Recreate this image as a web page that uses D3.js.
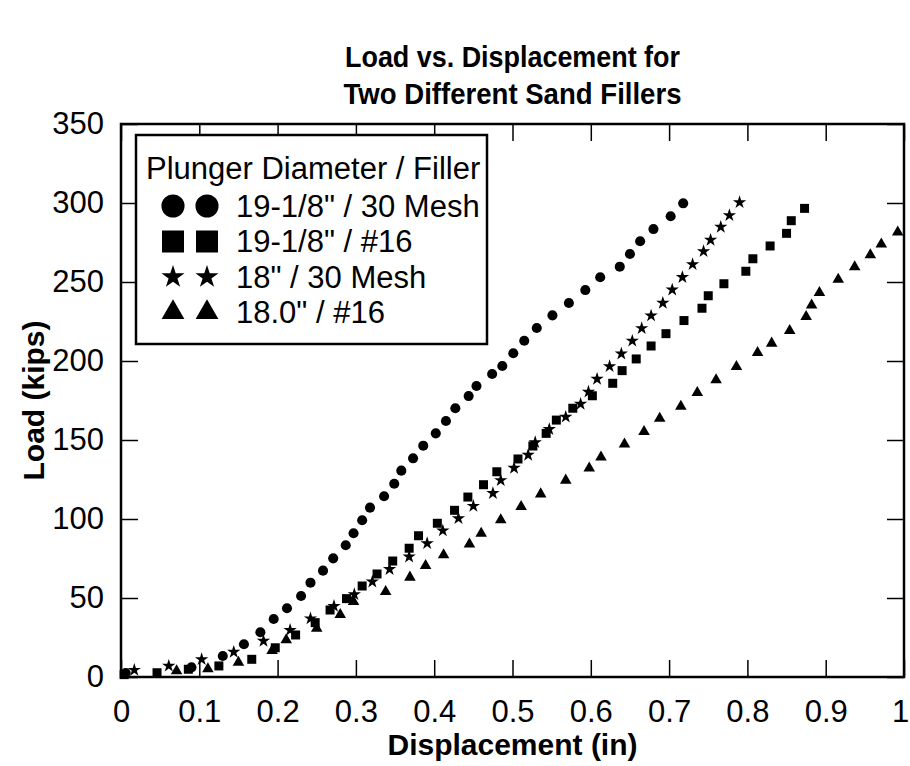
<!DOCTYPE html>
<html>
<head>
<meta http-equiv="Content-Type" content="text/html;charset=utf-8"/>
<style>
  body { margin: 0; background: #fff; }
  text { font-family: Arial, "Liberation Sans", Helvetica, sans-serif; fill: #000; }
</style>
</head>
<body>
<svg id="chart"></svg>
<script src="https://d3js.org/d3.v7.min.js"></script>
<script>
// Data: displacement (in) and load (kips)
var circleX = [0.006, 0.090, 0.130, 0.157, 0.178, 0.195, 0.212, 0.230, 0.242, 0.258, 0.271, 0.287, 0.297, 0.308, 0.318, 0.336, 0.349, 0.358, 0.373, 0.386, 0.402, 0.415, 0.427, 0.444, 0.454, 0.474, 0.487, 0.501, 0.515, 0.531, 0.551, 0.572, 0.593, 0.612, 0.637, 0.650, 0.663, 0.680, 0.702, 0.718];
var circleY = [2.5, 6.1, 13.3, 20.7, 28.3, 36.7, 43.5, 51.3, 59.7, 67.3, 75.1, 83.4, 91.0, 99.2, 107.2, 114.4, 122.3, 130.6, 138.4, 146.4, 154.2, 162.0, 170.1, 177.8, 184.2, 191.8, 196.8, 204.9, 212.8, 220.9, 228.9, 236.7, 244.9, 253.0, 259.7, 267.7, 275.8, 283.5, 291.6, 299.8];

var squareX = [0.004, 0.046, 0.086, 0.125, 0.167, 0.197, 0.223, 0.248, 0.267, 0.288, 0.308, 0.327, 0.347, 0.368, 0.380, 0.404, 0.426, 0.443, 0.463, 0.480, 0.507, 0.526, 0.543, 0.556, 0.577, 0.602, 0.628, 0.640, 0.658, 0.677, 0.696, 0.719, 0.742, 0.750, 0.770, 0.798, 0.807, 0.829, 0.850, 0.856, 0.873];
var squareY = [1.5, 2.7, 4.9, 7.0, 11.2, 18.5, 26.6, 34.4, 42.4, 49.6, 57.6, 65.2, 73.4, 81.5, 89.4, 97.3, 105.5, 113.9, 121.7, 129.9, 138.0, 146.2, 154.2, 162.6, 170.1, 178.0, 185.9, 193.9, 201.3, 209.5, 217.3, 225.6, 233.4, 241.3, 248.9, 256.8, 264.7, 272.8, 280.8, 288.8, 296.6];

var starX = [0.017, 0.061, 0.103, 0.144, 0.182, 0.216, 0.242, 0.272, 0.298, 0.321, 0.343, 0.368, 0.391, 0.411, 0.431, 0.450, 0.475, 0.485, 0.502, 0.520, 0.529, 0.547, 0.568, 0.587, 0.597, 0.608, 0.624, 0.639, 0.653, 0.665, 0.677, 0.692, 0.704, 0.717, 0.730, 0.744, 0.753, 0.766, 0.777, 0.790];
var starY = [4.4, 7.0, 11.2, 15.8, 22.8, 29.7, 37.0, 44.9, 52.3, 60.3, 68.2, 76.1, 84.6, 92.6, 100.4, 108.2, 116.3, 124.5, 132.3, 140.5, 148.5, 156.8, 164.6, 172.8, 180.5, 188.6, 196.6, 204.6, 212.7, 220.7, 228.7, 236.7, 245.1, 253.0, 261.2, 269.4, 276.6, 284.8, 292.2, 300.4];

var triX = [0.071, 0.111, 0.150, 0.193, 0.211, 0.250, 0.280, 0.297, 0.338, 0.369, 0.389, 0.412, 0.445, 0.460, 0.485, 0.511, 0.536, 0.568, 0.598, 0.613, 0.643, 0.668, 0.688, 0.715, 0.736, 0.760, 0.786, 0.813, 0.831, 0.854, 0.875, 0.882, 0.892, 0.916, 0.937, 0.957, 0.971, 0.992];
var triY = [3.8, 5.1, 9.2, 16.6, 23.4, 30.8, 39.4, 47.7, 54.0, 63.1, 70.4, 77.2, 84.0, 90.9, 99.4, 107.8, 115.8, 124.5, 132.1, 139.1, 147.3, 155.3, 163.6, 171.2, 179.9, 188.0, 196.4, 205.3, 211.2, 219.2, 228.0, 235.4, 243.2, 251.7, 259.5, 267.1, 273.9, 281.5];

var seriesNames = ['19-1/8" / 30 Mesh', '19-1/8" / #16', '18" / 30 Mesh', '18.0" / #16'];
var titleLines = ['Load vs. Displacement for', 'Two Different Sand Fillers'];
var xTicks = [0, 0.1, 0.2, 0.3, 0.4, 0.5, 0.6, 0.7, 0.8, 0.9, 1];
var yTicks = [0, 50, 100, 150, 200, 250, 300, 350];

var config = {
  width: 910,
  height: 766,
  margin: { top: 124, left: 121, right: 6, bottom: 89 },
  tickLength: 17,
  tickFont: 31,
  legendFont: 31,
  labelFont: 30,
  titleFont: 30,
  titleWidths: [335, 338]
};

var svg = d3.select('#chart')
  .attr('width', config.width)
  .attr('height', config.height);

var plotW = config.width - config.margin.left - config.margin.right;
var plotH = config.height - config.margin.top - config.margin.bottom;

var g = svg.append('g')
  .attr('transform', 'translate(' + config.margin.left + ',' + config.margin.top + ')');

var x = d3.scaleLinear().domain([0, 1]).range([0, plotW]);
var y = d3.scaleLinear().domain([0, 350]).range([plotH, 0]);

// Inward ticks on all four sides, labels only on left and bottom
function styleAxis(sel) {
  sel.select('.domain').remove();
  sel.selectAll('.tick line').attr('stroke', '#000').attr('stroke-width', 1.5);
  sel.selectAll('.tick text').style('font-size', config.tickFont + 'px').attr('fill', '#000');
}

var xAxisG = g.append('g')
  .attr('transform', 'translate(0,' + plotH + ')')
  .call(d3.axisBottom(x).tickValues(xTicks).tickSizeInner(-config.tickLength).tickSizeOuter(0).tickPadding(23)
    .tickFormat(function(d) { return d === 0 ? '0' : d === 1 ? '1' : d3.format('.1f')(d); }))
  .call(styleAxis);
// keep the last label inside the window
xAxisG.selectAll('.tick text').filter(function(d) { return d === 1; }).attr('dx', -4);

g.append('g')
  .call(d3.axisLeft(y).tickValues(yTicks).tickSizeInner(-config.tickLength).tickSizeOuter(0).tickPadding(17))
  .call(styleAxis);

g.append('g')
  .call(d3.axisTop(x).tickValues(xTicks).tickSizeInner(-config.tickLength).tickSizeOuter(0).tickFormat(''))
  .call(styleAxis);

g.append('g')
  .attr('transform', 'translate(' + plotW + ',0)')
  .call(d3.axisRight(y).tickValues(yTicks).tickSizeInner(-config.tickLength).tickSizeOuter(0).tickFormat(''))
  .call(styleAxis);

// Frame
g.append('rect')
  .attr('width', plotW)
  .attr('height', plotH)
  .attr('fill', 'none')
  .attr('stroke', '#000')
  .attr('stroke-width', 2.5);

// Series
var series = [
  { xs: circleX, ys: circleY, type: d3.symbolCircle, size: 80, legendSize: 420 },
  { xs: squareX, ys: squareY, type: d3.symbolSquare, size: 81, legendSize: 484 },
  { xs: starX, ys: starY, type: d3.symbolStar, size: 55, legendSize: 165 },
  { xs: triX, ys: triY, type: d3.symbolTriangle, size: 58, legendSize: 225 }
];

series.forEach(function(s) {
  var pts = s.xs.map(function(v, i) { return [v, s.ys[i]]; });
  g.append('g').selectAll('path')
    .data(pts)
    .enter().append('path')
    .attr('transform', function(d) { return 'translate(' + x(d[0]) + ',' + y(d[1]) + ')'; })
    .attr('d', d3.symbol().type(s.type).size(s.size))
    .attr('fill', '#000');
});

// Legend
var legend = svg.append('g');
legend.append('rect')
  .attr('x', 136).attr('y', 135)
  .attr('width', 351).attr('height', 209)
  .attr('fill', '#fff')
  .attr('stroke', '#000')
  .attr('stroke-width', 2.5);

legend.append('text')
  .attr('x', 146).attr('y', 168)
  .attr('dy', '0.35em')
  .style('font-size', config.legendFont + 'px')
  .text('Plunger Diameter / Filler');

series.forEach(function(s, i) {
  var rowY = 206 + i * 35.5;
  [173, 207].forEach(function(mx) {
    legend.append('path')
      .attr('transform', 'translate(' + mx + ',' + rowY + ')')
      .attr('d', d3.symbol().type(s.type).size(s.legendSize))
      .attr('fill', '#000');
  });
  legend.append('text')
    .attr('x', 236).attr('y', rowY)
    .attr('dy', '0.35em')
    .style('font-size', config.legendFont + 'px')
    .text(seriesNames[i]);
});

// Titles
titleLines.forEach(function(t, i) {
  svg.append('text')
    .attr('x', config.margin.left + plotW / 2).attr('y', 67 + i * 37)
    .attr('text-anchor', 'middle')
    .attr('textLength', config.titleWidths[i])
    .attr('lengthAdjust', 'spacingAndGlyphs')
    .style('font-size', config.titleFont + 'px').style('font-weight', 'bold')
    .text(t);
});

svg.append('text')
  .attr('transform', 'translate(44,' + (config.margin.top + plotH / 2) + ') rotate(-90)')
  .attr('text-anchor', 'middle')
  .style('font-size', config.labelFont + 'px').style('font-weight', 'bold')
  .text('Load (kips)');

svg.append('text')
  .attr('x', config.margin.left + plotW / 2).attr('y', 755)
  .attr('text-anchor', 'middle')
  .style('font-size', config.labelFont + 'px').style('font-weight', 'bold')
  .text('Displacement (in)');
</script>
</body>
</html>
